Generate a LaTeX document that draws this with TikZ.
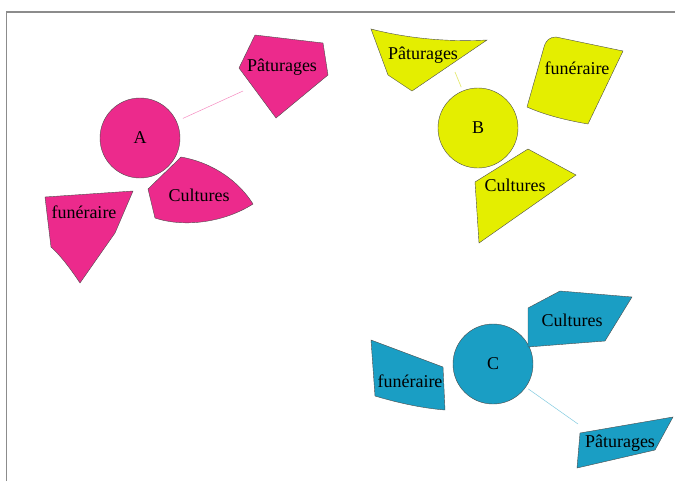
\documentclass[tikz,border=0pt]{standalone}
\usepackage{fontspec}
\setmainfont{Liberation Serif}
\usepackage{xcolor}
\usetikzlibrary{calc}
\definecolor{clrPink}{HTML}{EC2A8C}
\definecolor{clrYellow}{HTML}{E4EE00}
\definecolor{clrBlue}{HTML}{1A9EC4}
\definecolor{clrFrame}{HTML}{8C8C8C}

\begin{document}
\begin{tikzpicture}[
    x=1pt, y=-1pt,
    hub/.style={circle, minimum size=80pt, inner sep=0pt, draw=black!70, line width=0.4pt, font=\fontsize{18}{20}\selectfont},
    zone/.style={draw=black!70, line width=0.4pt},
    lbl/.style={inner sep=0pt, font=\fontsize{18}{20}\selectfont},
    link/.style={line width=0.5pt},
]
\useasboundingbox (0,0) rectangle (675,483);

% Frame
\draw[clrFrame, line width=1.2pt] (6.5,481) -- (6.5,12) -- (675,12);

% Connectors
\node[hub, fill=clrPink] (A) at (140,138) {A};
\node[hub, fill=clrYellow] (B) at (478,128) {B};
\node[hub, fill=clrBlue] (C) at (493,364) {C};
\coordinate (endA) at (243,91);
\coordinate (endB) at (455,72);
\coordinate (endC) at (578,424);
\draw[link, clrPink!55, shorten <=7pt] (A) -- (endA);
\draw[link, clrYellow!90!black!55, line width=0.7pt, shorten <=4pt] (B) -- (endB);
\draw[link, clrBlue!55, shorten <=3pt] (C) -- (endC);

% Group A
\fill[zone, fill=clrPink] (255,35) -- (323,43) -- (328,75) -- (276,118) -- (239,68) -- cycle;
\fill[zone, fill=clrPink] (148,189) -- (181,157) .. controls (215,163) and (240,183) .. (253,204)
    .. controls (225,222) and (185,228) .. (155,218) -- cycle;
\fill[zone, fill=clrPink] (45,197) -- (133,191) -- (115,233) -- (80,283)
    .. controls (70,268) and (60,255) .. (51,247) -- cycle;
\node[lbl] (paA) at (282,67) {Pâturages};
\node[lbl] (cuA) at (199,195) {Cultures};
\node[lbl] (fuA) at (84,212) {funéraire};

% Group B
\fill[zone, fill=clrYellow] (371,29) .. controls (410,39) and (450,42) .. (487,40) -- (412,91) -- (388,75) -- cycle;
\fill[zone, fill=clrYellow] (544,47) .. controls (546,40) and (550,37) .. (556,37) -- (623,51) -- (588,124)
    .. controls (565,120) and (545,115) .. (527,107) -- cycle;
\fill[zone, fill=clrYellow] (528,149) -- (576,175) -- (479,243) -- (475,182) -- cycle;
\node[lbl] (paB) at (423,55) {Pâturages};
\node[lbl] (fuB) at (577,68) {funéraire};
\node[lbl] (cuB) at (515,185) {Cultures};

% Group C
\fill[zone, fill=clrBlue] (528,308) -- (560,291) -- (632,297) -- (605,341) -- (528,347) -- cycle;
\fill[zone, fill=clrBlue] (371,340) -- (443,367) -- (445,410) .. controls (420,408) and (395,402) .. (375,396) -- cycle;
\fill[zone, fill=clrBlue] (580,433) -- (673,417) -- (655,450) -- (577,468) -- cycle;
\node[lbl] (cuC) at (572,320) {Cultures};
\node[lbl] (fuC) at (410,381) {funéraire};
\node[lbl] (paC) at (620,443) {Pâturages};

\end{tikzpicture}
\end{document}
